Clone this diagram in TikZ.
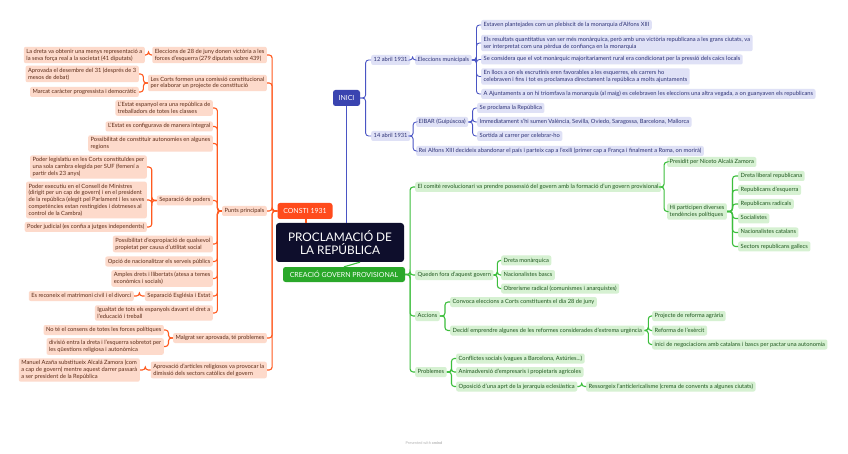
\documentclass[tikz,border=0pt]{standalone}
\usepackage{fontspec}
\setmainfont{Lato}
\usetikzlibrary{calc}
\definecolor{bline}{HTML}{4A55C4}
\definecolor{bfill}{HTML}{DFE1F6}
\definecolor{btext}{HTML}{2C3175}
\definecolor{oline}{HTML}{FF5A1F}
\definecolor{ofill}{HTML}{FDDACB}
\definecolor{otext}{HTML}{5B2B17}
\definecolor{gline}{HTML}{3DBE3D}
\definecolor{gfill}{HTML}{D6F1D2}
\definecolor{gtext}{HTML}{1E561E}
\definecolor{rootfill}{HTML}{0E0E2C}
\definecolor{inicifill}{HTML}{3A44B0}
\definecolor{constifill}{HTML}{FF4B1C}
\definecolor{creafill}{HTML}{2AA82A}
\newcommand\smallfs{\fontsize{5.75}{6.8}\selectfont}
\newcommand\lkR[3]{\draw[#1] let \p1=(#2.east), \p2=(#3.west) in (\p1) -- ({0.5*\x1+0.5*\x2},\y1) |- (\p2);}
\newcommand\lkL[3]{\draw[#1] let \p1=(#2.west), \p2=(#3.east) in (\p1) -- ({0.5*\x1+0.5*\x2},\y1) |- (\p2);}
\begin{document}
\begin{tikzpicture}[x=1pt,y=-1pt,
  leaf/.style={rounded corners=2pt, inner xsep=2.5pt, inner ysep=2.2pt, font=\smallfs, align=left, text height=4.3pt, text depth=1.3pt},
  ml/.style={text height=, text depth=},
  bn/.style={leaf, fill=bfill, text=btext},
  on/.style={leaf, fill=ofill, text=otext},
  gn/.style={leaf, fill=gfill, text=gtext},
  bl/.style={draw=bline, line width=0.9pt, rounded corners=3pt},
  ol/.style={draw=oline, line width=1.1pt, rounded corners=3pt},
  gl/.style={draw=gline, line width=1.1pt, rounded corners=3pt},
  topic/.style={rounded corners=2.5pt, text=white, font=\fontsize{7}{8}\selectfont, inner sep=0pt}
]
\useasboundingbox (0,0) rectangle (848,454);
\fill[white] (0,0) rectangle (848,454);

% ---- central and main topics
\node[fill=rootfill, rounded corners=3pt, text=white, font=\fontsize{11.8}{13.5}\selectfont, align=center, minimum width=128pt, minimum height=39pt, inner sep=0pt] (root) at (340,242.5) {PROCLAMACIÓ DE\\LA REPÚBLICA};
\node[topic, fill=inicifill, minimum width=27pt, minimum height=16pt] (inici) at (346.5,98) {INICI};
\node[topic, fill=constifill, minimum width=55pt, minimum height=16pt] (consti) at (305,211) {CONSTI 1931};
\node[topic, fill=creafill, minimum width=122pt, minimum height=15pt] (crea) at (344,274.5) {CREACIÓ GOVERN PROVISIONAL};

% ---- INICI branch
\node[bn,anchor=west] (d12) at (371,60) {12 abril 1931};
\node[bn,anchor=west] (em) at (415,60) {Eleccions municipals};
\node[bn,anchor=west] (e1) at (481,25) {Estaven plantejades com un plebiscit de la monarquia d'Alfons XIII};
\node[bn,ml,anchor=west] (e2) at (481,43) {Els resultats quantitatius van ser més monàrquica, però amb una victòria republicana a les grans ciutats, va\\ser interpretat com una pèrdua de confiança en la monarquia};
\node[bn,anchor=west] (e3) at (481,59.5) {Se considera que el vot monàrquic majoritariament rural era condicionat per la pressió dels caics locals};
\node[bn,ml,anchor=west] (e4) at (481,76.5) {En llocs a on els escrutinis eren favorables a les esquerres, els carrers ho\\celebraven i fins i tot es proclamava directament la república a molts ajuntaments};
\node[bn,anchor=west] (e5) at (481,94) {A Ajuntaments a on hi triomfava la monarquia (al maig) es celebraven les eleccions una altra vegada, a on guanyaven els republicans};
\node[bn,anchor=west] (d14) at (371,136) {14 abril 1931};
\node[bn,anchor=west] (eib) at (416,122) {EIBAR (Guipúscoa)};
\node[bn,anchor=west] (f1) at (477,108) {Se proclama la República};
\node[bn,anchor=west] (f2) at (477,122) {Immediatament s'hi sumen València, Sevilla, Oviedo, Saragossa, Barcelona, Mallorca};
\node[bn,anchor=west] (f3) at (477,136) {Sortida al carrer per celebrar-ho};
\node[bn,anchor=west] (rei) at (416,151) {Rei Alfons XIII decideix abandonar el país i parteix cap a l'exili (primer cap a França i finalment a Roma, on morirà)};

\draw[bl] (inici.south) -- (inici.south |- root.north);
\lkR{bl}{inici}{d12}
\lkR{bl}{inici}{d14}
\lkR{bl}{d12}{em}
\foreach \c in {e1,e2,e3,e4,e5} {\lkR{bl}{em}{\c}}
\lkR{bl}{d14}{eib}
\lkR{bl}{d14}{rei}
\foreach \c in {f1,f2,f3} {\lkR{bl}{eib}{\c}}

% ---- CONSTI branch
\node[on,ml,anchor=east] (c1) at (267,55) {Eleccions de 28 de juny donen victòria a les\\forces d'esquerra (279 diputats sobre 439)};
\node[on,ml,anchor=east] (c1a) at (145,55) {La dreta va obtenir una menys representació a\\la seva força real a la societat (41 diputats)};
\node[on,ml,anchor=east] (c2) at (267,83) {Les Corts formen una comissió constitucional\\per elaborar un projecte de constitució};
\node[on,ml,anchor=east] (c2a) at (139,74) {Aprovada el desembre del 31 (després de 3\\mesos de debat)};
\node[on,anchor=east] (c2b) at (139,92) {Marcat caràcter progressista i democràtic};
\node[on,anchor=east] (pp) at (267,211) {Punts principals};
\node[on,ml,anchor=east] (p1) at (213,108) {L'Estat espanyol era una república de\\treballadors de totes les classes};
\node[on,anchor=east] (p2) at (213,126.5) {L'Estat es configurava de manera integral};
\node[on,ml,anchor=east] (p3) at (213,143.5) {Possibilitat de constituir autonomies en algunes\\regions};
\node[on,anchor=east] (p4) at (213,200.5) {Separació de poders};
\node[on,ml,anchor=east] (s1) at (147,167) {Poder legislatiu en les Corts constituïdes per\\una sola cambra elegida per SUF (femení a\\partir dels 23 anys)};
\node[on,ml,anchor=east] (s2) at (147,200) {Poder executiu en el Consell de Ministres\\(dirigit per un cap de govern) i en el president\\de la república (elegit pel Parlament i les seves\\competències estan restingides i dotmeses al\\control de la Cambra)};
\node[on,anchor=east] (s3) at (147,227) {Poder judicial (es confia a jutges independents)};
\node[on,ml,anchor=east] (p5) at (213,244) {Possibilitat d'expropiació de qualsevol\\propietat per causa d'utilitat social};
\node[on,anchor=east] (p6) at (213,261.5) {Opció de nacionalitzar els serveis públics};
\node[on,ml,anchor=east] (p7) at (213,278.5) {Amples drets i llibertats (atesa a temes\\econòmics i socials)};
\node[on,anchor=east] (p8) at (213,296) {Separació Església i Estat};
\node[on,anchor=east] (p8a) at (134,296) {Es reconeix el matrimoni civil i el divorci};
\node[on,ml,anchor=east] (p9) at (213,313) {Igualtat de tots els espanyols davant el dret a\\l'educació i treball};
\node[on,anchor=east] (m) at (267,338) {Malgrat ser aprovada, té problemes};
\node[on,anchor=east] (m1) at (164,330) {No té el consens de totes les forces polítiques};
\node[on,ml,anchor=east] (m2) at (164,346.5) {divisió entra la dreta i l'esquerra sobretot per\\les qüestions religiosa i autonòmica};
\node[on,ml,anchor=east] (ap) at (267,370) {Aprovació d'articles religiosos va provocar la\\dimissió dels sectors catòlics del govern};
\node[on,ml,anchor=east] (ap1) at (140,370) {Manuel Azaña substitueix Alcalá Zamora (com\\a cap de govern) mentre aquest darrer passarà\\a ser president de la República};

\draw[ol] (consti.south -| 306,0) -- (306,0 |- root.north);
\foreach \c in {c1,c2,pp,m,ap} {\lkL{ol}{consti}{\c}}
\lkL{ol}{c1}{c1a}
\lkL{ol}{c2}{c2a}
\lkL{ol}{c2}{c2b}
\foreach \c in {p1,p2,p3,p4,p5,p6,p7,p8,p9} {\lkL{ol}{pp}{\c}}
\foreach \c in {s1,s2,s3} {\lkL{ol}{p4}{\c}}
\lkL{ol}{p8}{p8a}
\lkL{ol}{m}{m1}
\lkL{ol}{m}{m2}
\lkL{ol}{ap}{ap1}

% ---- CREACIO branch
\node[gn,anchor=west] (g1) at (415,187) {El comitè revolucionari va prendre possessió del govern amb la formació d'un govern provisional};
\node[gn,anchor=west] (g11) at (667,162) {Presidit per Niceto Alcalá Zamora};
\node[gn,ml,anchor=west] (g12) at (667,211.5) {Hi participen diverses\\tendències polítiques};
\node[gn,anchor=west] (t1) at (738,176) {Dreta liberal republicana};
\node[gn,anchor=west] (t2) at (738,190) {Republicans d'esquerra};
\node[gn,anchor=west] (t3) at (738,204) {Republicans radicals};
\node[gn,anchor=west] (t4) at (738,218.5) {Socialistes};
\node[gn,anchor=west] (t5) at (738,232.5) {Nacionalistes catalans};
\node[gn,anchor=west] (t6) at (738,246.5) {Sectors republicans gallecs};
\node[gn,anchor=west] (q) at (415,275) {Queden fora d'aquest govern};
\node[gn,anchor=west] (q1) at (501,260.5) {Dreta monàrquica};
\node[gn,anchor=west] (q2) at (501,275) {Nacionalistes bascs};
\node[gn,anchor=west] (q3) at (501,288.5) {Obrerisme radical (comunismes i anarquistes)};
\node[gn,anchor=west] (ac) at (415,316) {Accions};
\node[gn,anchor=west] (ac1) at (450,302) {Convoca eleccions a Corts constituents el dia 28 de juny};
\node[gn,anchor=west] (ac2) at (450,330.5) {Decidí emprendre algunes de les reformes considerades d'extrema urgència};
\node[gn,anchor=west] (r1) at (652,316) {Projecte de reforma agrària};
\node[gn,anchor=west] (r2) at (652,330.5) {Reforma de l'exèrcit};
\node[gn,anchor=west] (r3) at (652,344.5) {inici de negociacions amb catalans i bascs per pactar una autonomia};
\node[gn,anchor=west] (pr) at (415,372) {Problemes};
\node[gn,anchor=west] (pr1) at (456,358.5) {Conflictes socials (vagues a Barcelona, Astúries...)};
\node[gn,anchor=west] (pr2) at (456,372) {Animadversió d'empresaris i propietaris agrícoles};
\node[gn,anchor=west] (pr3) at (456,386.5) {Oposició d'una aprt de la jerarquia eclesiàstica};
\node[gn,anchor=west] (pr3a) at (586,386.5) {Ressorgeix l'anticlericalisme (crema de convents a algunes ciutats)};

\draw[gl] (crea.north) -- ([xshift=20pt]root.south);
\foreach \c in {g1,q,ac,pr} {\lkR{gl}{crea}{\c}}
\lkR{gl}{g1}{g11}
\lkR{gl}{g1}{g12}
\foreach \c in {t1,t2,t3,t4,t5,t6} {\lkR{gl}{g12}{\c}}
\foreach \c in {q1,q2,q3} {\lkR{gl}{q}{\c}}
\lkR{gl}{ac}{ac1}
\lkR{gl}{ac}{ac2}
\foreach \c in {r1,r2,r3} {\lkR{gl}{ac2}{\c}}
\foreach \c in {pr1,pr2,pr3} {\lkR{gl}{pr}{\c}}
\lkR{gl}{pr3}{pr3a}

\node[text=black!30, font=\fontsize{3.8}{4}\selectfont] (wm) at (424,443) {Presented with \textbf{xmind}};
\end{tikzpicture}
\end{document}
